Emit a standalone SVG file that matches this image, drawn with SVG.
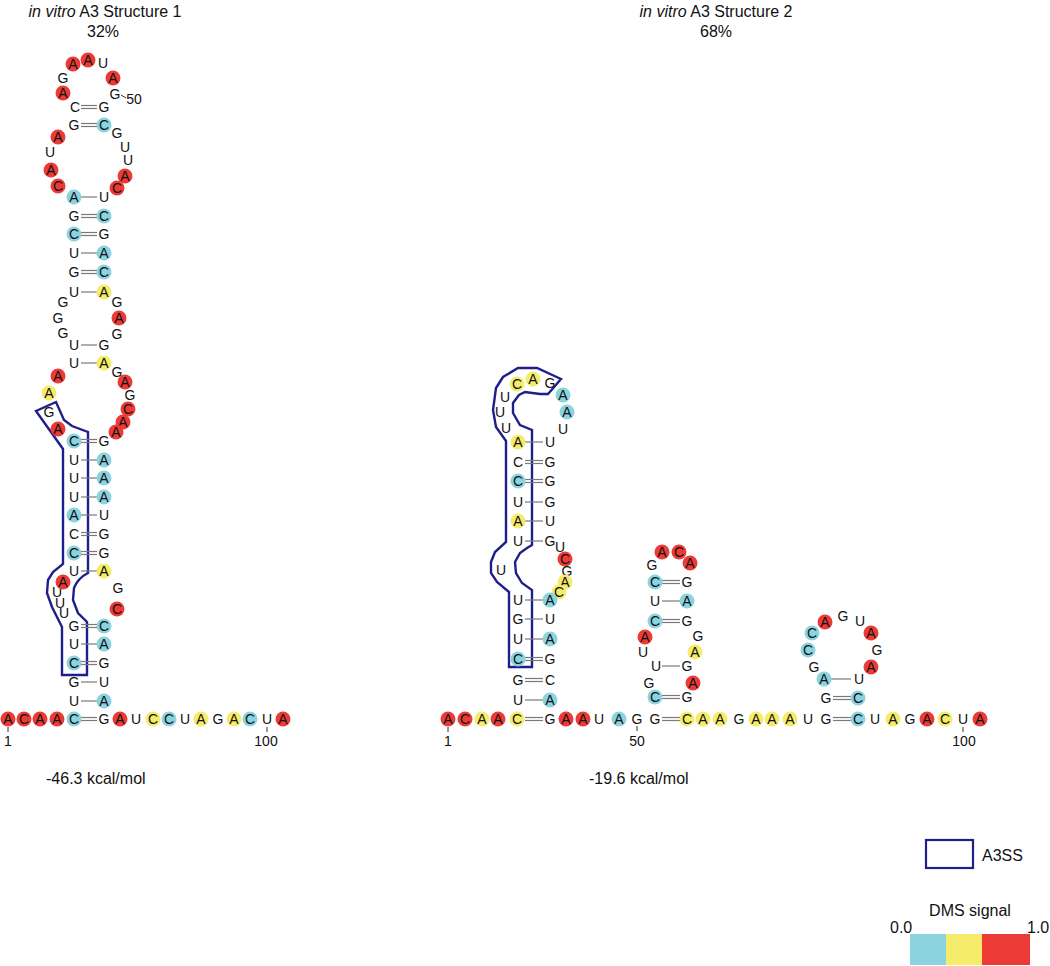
<svg xmlns="http://www.w3.org/2000/svg" width="1050" height="966" viewBox="0 0 1050 966">
<style>
text{font-family:"Liberation Sans",Arial,sans-serif;font-size:14px;text-anchor:middle;fill:#111}
.t{font-size:16px}
.st{font-size:16px;text-anchor:start}
.cc{fill:#8bd3df}.cy{fill:#f6ec6b}.cr{fill:#ec3b36}
.bp line{stroke:#7a7a7a;stroke-width:1.2}
.tk{stroke:#333;stroke-width:1}
.ol{fill:none;stroke:#1f1f8c;stroke-width:2.4;stroke-linejoin:miter}
</style>
<rect width="1050" height="966" fill="#fff"/>

<!-- titles -->
<g id="title1"><text class="t" x="105" y="17"><tspan font-style="italic">in vitro</tspan> A3 Structure 1</text><text class="t" x="103" y="37">32%</text></g>
<g id="title2"><text class="t" x="716" y="17"><tspan font-style="italic">in vitro</tspan> A3 Structure 2</text><text class="t" x="716" y="37">68%</text></g>
<g id="energy1"><text class="st" x="46" y="784">-46.3 kcal/mol</text></g>
<g id="energy2"><text class="st" x="589" y="784">-19.6 kcal/mol</text></g>

<!-- outlines (A3SS) -->
<g id="a3ss1"><path class="ol" d="M36,411 L56,402 L64,420 L72,426 L88,432 L88,573 Q78,578 74,588 L73,600 L78,613 L87,622 L87,675 L62,675 L62,627 L52,607 L47,593 L48,580 L53,572 L63,564 L63,449 Z"/></g>
<g id="a3ss2"><path class="ol" d="M561,379 L537,368 L518,368 L503,377 L496,388 L493,410 L496,427 L506,441 L506,542 L495,552 L491,562 L491,573 L497,582 L509,592 L509,667 L532,667 L532,590 L522,583 L516,573 L515,562 L520,553 L527,548 L532,545 L532,430 L520,425 L513,413 L513,403 L519,395 L525,392 L540,394 L548,394 Z"/></g>

<!-- connectors: base pairs and ticks -->
<g id="connectors">
<g class="bp">
<!-- structure 1 -->
<line x1="81" y1="717.5" x2="97" y2="717.5"/><line x1="81" y1="720.5" x2="97" y2="720.5"/>
<line x1="81" y1="701" x2="97" y2="701"/>
<line x1="81" y1="682" x2="97" y2="682"/>
<line x1="81" y1="661.5" x2="97" y2="661.5"/><line x1="81" y1="664.5" x2="97" y2="664.5"/>
<line x1="81" y1="644" x2="97" y2="644"/>
<line x1="81" y1="624.5" x2="97" y2="624.5"/><line x1="81" y1="627.5" x2="97" y2="627.5"/>
<line x1="81" y1="571" x2="97" y2="571"/>
<line x1="81" y1="551.5" x2="97" y2="551.5"/><line x1="81" y1="554.5" x2="97" y2="554.5"/>
<line x1="81" y1="532.5" x2="97" y2="532.5"/><line x1="81" y1="535.5" x2="97" y2="535.5"/>
<line x1="81" y1="515" x2="97" y2="515"/>
<line x1="81" y1="497" x2="97" y2="497"/>
<line x1="81" y1="478" x2="97" y2="478"/>
<line x1="81" y1="460" x2="97" y2="460"/>
<line x1="81" y1="439.5" x2="97" y2="439.5"/><line x1="81" y1="442.5" x2="97" y2="442.5"/>
<line x1="81" y1="363" x2="97" y2="363"/>
<line x1="81" y1="345" x2="97" y2="345"/>
<line x1="81" y1="292" x2="97" y2="292"/>
<line x1="81" y1="270.5" x2="97" y2="270.5"/><line x1="81" y1="273.5" x2="97" y2="273.5"/>
<line x1="81" y1="253" x2="97" y2="253"/>
<line x1="81" y1="232.5" x2="97" y2="232.5"/><line x1="81" y1="235.5" x2="97" y2="235.5"/>
<line x1="81" y1="214.5" x2="97" y2="214.5"/><line x1="81" y1="217.5" x2="97" y2="217.5"/>
<line x1="81" y1="197" x2="97" y2="197"/>
<line x1="81" y1="123.5" x2="97" y2="123.5"/><line x1="81" y1="126.5" x2="97" y2="126.5"/>
<line x1="81" y1="105.5" x2="97" y2="105.5"/><line x1="81" y1="108.5" x2="97" y2="108.5"/>
<!-- structure 2 stem 1 -->
<line x1="525" y1="717.5" x2="543" y2="717.5"/><line x1="525" y1="720.5" x2="543" y2="720.5"/>
<line x1="525" y1="700" x2="543" y2="700"/>
<line x1="525" y1="678.5" x2="543" y2="678.5"/><line x1="525" y1="681.5" x2="543" y2="681.5"/>
<line x1="525" y1="657.5" x2="543" y2="657.5"/><line x1="525" y1="660.5" x2="543" y2="660.5"/>
<line x1="525" y1="639" x2="543" y2="639"/>
<line x1="525" y1="619" x2="543" y2="619"/>
<line x1="525" y1="600" x2="543" y2="600"/>
<line x1="525" y1="541" x2="543" y2="541"/>
<line x1="525" y1="521" x2="543" y2="521"/>
<line x1="525" y1="502" x2="543" y2="502"/>
<line x1="525" y1="479.5" x2="543" y2="479.5"/><line x1="525" y1="482.5" x2="543" y2="482.5"/>
<line x1="525" y1="460.5" x2="543" y2="460.5"/><line x1="525" y1="463.5" x2="543" y2="463.5"/>
<line x1="525" y1="442" x2="543" y2="442"/>
<!-- hairpin 2 -->
<line x1="662" y1="717.5" x2="680" y2="717.5"/><line x1="662" y1="720.5" x2="680" y2="720.5"/>
<line x1="662" y1="695.5" x2="680" y2="695.5"/><line x1="662" y1="698.5" x2="680" y2="698.5"/>
<line x1="662" y1="666" x2="680" y2="666"/>
<line x1="662" y1="619.5" x2="680" y2="619.5"/><line x1="662" y1="622.5" x2="680" y2="622.5"/>
<line x1="662" y1="601" x2="680" y2="601"/>
<line x1="662" y1="580.5" x2="680" y2="580.5"/><line x1="662" y1="583.5" x2="680" y2="583.5"/>
<!-- hairpin 3 -->
<line x1="833" y1="717.5" x2="851" y2="717.5"/><line x1="833" y1="720.5" x2="851" y2="720.5"/>
<line x1="833" y1="696.5" x2="851" y2="696.5"/><line x1="833" y1="699.5" x2="851" y2="699.5"/>
<line x1="831" y1="679" x2="851" y2="679"/>
</g>
<line class="tk" x1="8" y1="727" x2="8" y2="732"/>
<line class="tk" x1="267" y1="727" x2="267" y2="732"/>
<line class="tk" x1="121" y1="95" x2="126" y2="98"/>
<line class="tk" x1="448" y1="727" x2="448" y2="732"/>
<line class="tk" x1="637" y1="726" x2="637" y2="731"/>
<line class="tk" x1="963" y1="727" x2="963" y2="732"/>
</g>

<!-- position labels -->
<g id="labels">
<text x="8" y="746">1</text>
<text x="266" y="746">100</text>
<text x="134" y="104">50</text>
<text x="448" y="746">1</text>
<text x="637" y="746">50</text>
<text x="964" y="746">100</text>
</g>

<!-- structure 1 nucleotides -->
<g id="structure1">
<g id="s1n1"><circle class="cr" cx="8" cy="719" r="7.5"/><text x="8" y="724">A</text></g>
<g id="s1n2"><circle class="cr" cx="24" cy="719" r="7.5"/><text x="24" y="724">C</text></g>
<g id="s1n3"><circle class="cr" cx="40" cy="719" r="7.5"/><text x="40" y="724">A</text></g>
<g id="s1n4"><circle class="cr" cx="57" cy="719" r="7.5"/><text x="57" y="724">A</text></g>
<g id="s1n5"><circle class="cc" cx="74" cy="719" r="7.5"/><text x="74" y="724">C</text></g>
<g id="s1n6"><text x="74" y="706">U</text></g>
<g id="s1n7"><text x="74" y="687">G</text></g>
<g id="s1n8"><circle class="cc" cx="74" cy="663" r="7.5"/><text x="74" y="668">C</text></g>
<g id="s1n9"><text x="74" y="649">U</text></g>
<g id="s1n10"><text x="74" y="631">G</text></g>
<g id="s1n11"><text x="64" y="618">U</text></g>
<g id="s1n12"><text x="60" y="608">U</text></g>
<g id="s1n13"><text x="57" y="597">U</text></g>
<g id="s1n14"><circle class="cr" cx="63" cy="582" r="7.5"/><text x="63" y="587">A</text></g>
<g id="s1n15"><text x="74" y="576">U</text></g>
<g id="s1n16"><circle class="cc" cx="74" cy="553" r="7.5"/><text x="74" y="558">C</text></g>
<g id="s1n17"><text x="74" y="539">C</text></g>
<g id="s1n18"><circle class="cc" cx="74" cy="515" r="7.5"/><text x="74" y="520">A</text></g>
<g id="s1n19"><text x="74" y="502">U</text></g>
<g id="s1n20"><text x="74" y="483">U</text></g>
<g id="s1n21"><text x="74" y="465">U</text></g>
<g id="s1n22"><circle class="cc" cx="74" cy="441" r="7.5"/><text x="74" y="446">C</text></g>
<g id="s1n23"><circle class="cr" cx="58" cy="429" r="7.5"/><text x="58" y="434">A</text></g>
<g id="s1n24"><text x="49" y="417">G</text></g>
<g id="s1n25"><circle class="cy" cx="49" cy="393" r="7.5"/><text x="49" y="398">A</text></g>
<g id="s1n26"><circle class="cr" cx="58" cy="376" r="7.5"/><text x="58" y="381">A</text></g>
<g id="s1n27"><text x="74" y="368">U</text></g>
<g id="s1n28"><text x="74" y="350">U</text></g>
<g id="s1n29"><text x="63" y="338">G</text></g>
<g id="s1n30"><text x="58" y="323">G</text></g>
<g id="s1n31"><text x="63" y="307">G</text></g>
<g id="s1n32"><text x="74" y="297">U</text></g>
<g id="s1n33"><text x="74" y="277">G</text></g>
<g id="s1n34"><text x="74" y="258">U</text></g>
<g id="s1n35"><circle class="cc" cx="74" cy="234" r="7.5"/><text x="74" y="239">C</text></g>
<g id="s1n36"><text x="74" y="221">G</text></g>
<g id="s1n37"><circle class="cc" cx="74" cy="197" r="7.5"/><text x="74" y="202">A</text></g>
<g id="s1n38"><circle class="cr" cx="58" cy="186" r="7.5"/><text x="58" y="191">C</text></g>
<g id="s1n39"><circle class="cr" cx="51" cy="170" r="7.5"/><text x="51" y="175">A</text></g>
<g id="s1n40"><text x="50" y="157">U</text></g>
<g id="s1n41"><circle class="cr" cx="58" cy="137" r="7.5"/><text x="58" y="142">A</text></g>
<g id="s1n42"><text x="74" y="130">G</text></g>
<g id="s1n43"><text x="75" y="112">C</text></g>
<g id="s1n44"><circle class="cr" cx="63" cy="93" r="7.5"/><text x="63" y="98">A</text></g>
<g id="s1n45"><text x="63" y="83">G</text></g>
<g id="s1n46"><circle class="cr" cx="73" cy="64" r="7.5"/><text x="73" y="69">A</text></g>
<g id="s1n47"><circle class="cr" cx="88" cy="60" r="7.5"/><text x="88" y="65">A</text></g>
<g id="s1n48"><text x="103" y="68">U</text></g>
<g id="s1n49"><circle class="cr" cx="113" cy="78" r="7.5"/><text x="113" y="83">A</text></g>
<g id="s1n50"><text x="115" y="99">G</text></g>
<g id="s1n51"><text x="104" y="112">G</text></g>
<g id="s1n52"><circle class="cc" cx="104" cy="125" r="7.5"/><text x="104" y="130">C</text></g>
<g id="s1n53"><text x="117" y="138">G</text></g>
<g id="s1n54"><text x="125" y="152">U</text></g>
<g id="s1n55"><text x="128" y="165">U</text></g>
<g id="s1n56"><circle class="cr" cx="125" cy="176" r="7.5"/><text x="125" y="181">A</text></g>
<g id="s1n57"><circle class="cr" cx="117" cy="188" r="7.5"/><text x="117" y="193">C</text></g>
<g id="s1n58"><text x="104" y="202">U</text></g>
<g id="s1n59"><circle class="cc" cx="104" cy="216" r="7.5"/><text x="104" y="221">C</text></g>
<g id="s1n60"><text x="104" y="239">G</text></g>
<g id="s1n61"><circle class="cc" cx="104" cy="253" r="7.5"/><text x="104" y="258">A</text></g>
<g id="s1n62"><circle class="cc" cx="104" cy="272" r="7.5"/><text x="104" y="277">C</text></g>
<g id="s1n63"><circle class="cy" cx="104" cy="292" r="7.5"/><text x="104" y="297">A</text></g>
<g id="s1n64"><text x="117" y="307">G</text></g>
<g id="s1n65"><circle class="cr" cx="119" cy="318" r="7.5"/><text x="119" y="323">A</text></g>
<g id="s1n66"><text x="117" y="339">G</text></g>
<g id="s1n67"><text x="104" y="350">G</text></g>
<g id="s1n68"><circle class="cy" cx="104" cy="363" r="7.5"/><text x="104" y="368">A</text></g>
<g id="s1n69"><text x="117" y="377">G</text></g>
<g id="s1n70"><circle class="cr" cx="125" cy="382" r="7.5"/><text x="125" y="387">A</text></g>
<g id="s1n71"><text x="130" y="400">G</text></g>
<g id="s1n72"><circle class="cr" cx="128" cy="409" r="7.5"/><text x="128" y="414">C</text></g>
<g id="s1n73"><circle class="cr" cx="123" cy="422" r="7.5"/><text x="123" y="427">A</text></g>
<g id="s1n74"><circle class="cr" cx="116" cy="432" r="7.5"/><text x="116" y="437">A</text></g>
<g id="s1n75"><text x="104" y="446">G</text></g>
<g id="s1n76"><circle class="cc" cx="104" cy="460" r="7.5"/><text x="104" y="465">A</text></g>
<g id="s1n77"><circle class="cc" cx="104" cy="478" r="7.5"/><text x="104" y="483">A</text></g>
<g id="s1n78"><circle class="cc" cx="104" cy="497" r="7.5"/><text x="104" y="502">A</text></g>
<g id="s1n79"><text x="104" y="520">U</text></g>
<g id="s1n80"><text x="104" y="539">G</text></g>
<g id="s1n81"><text x="104" y="558">G</text></g>
<g id="s1n82"><circle class="cy" cx="104" cy="571" r="7.5"/><text x="104" y="576">A</text></g>
<g id="s1n83"><text x="118" y="593">G</text></g>
<g id="s1n84"><circle class="cr" cx="117" cy="609" r="7.5"/><text x="117" y="614">C</text></g>
<g id="s1n85"><circle class="cc" cx="104" cy="626" r="7.5"/><text x="104" y="631">C</text></g>
<g id="s1n86"><circle class="cc" cx="104" cy="644" r="7.5"/><text x="104" y="649">A</text></g>
<g id="s1n87"><text x="104" y="668">G</text></g>
<g id="s1n88"><text x="104" y="687">U</text></g>
<g id="s1n89"><circle class="cc" cx="104" cy="701" r="7.5"/><text x="104" y="706">A</text></g>
<g id="s1n90"><text x="104" y="724">G</text></g>
<g id="s1n91"><circle class="cr" cx="120" cy="719" r="7.5"/><text x="120" y="724">A</text></g>
<g id="s1n92"><text x="136" y="724">U</text></g>
<g id="s1n93"><circle class="cy" cx="153" cy="719" r="7.5"/><text x="153" y="724">C</text></g>
<g id="s1n94"><circle class="cc" cx="169" cy="719" r="7.5"/><text x="169" y="724">C</text></g>
<g id="s1n95"><text x="185" y="724">U</text></g>
<g id="s1n96"><circle class="cy" cx="201" cy="719" r="7.5"/><text x="201" y="724">A</text></g>
<g id="s1n97"><text x="218" y="724">G</text></g>
<g id="s1n98"><circle class="cy" cx="234" cy="719" r="7.5"/><text x="234" y="724">A</text></g>
<g id="s1n99"><circle class="cc" cx="250" cy="719" r="7.5"/><text x="250" y="724">C</text></g>
<g id="s1n100"><text x="267" y="724">U</text></g>
<g id="s1n101"><circle class="cr" cx="283" cy="719" r="7.5"/><text x="283" y="724">A</text></g>
</g>

<!-- structure 2 nucleotides -->
<g id="structure2">
<g id="s2n1"><circle class="cr" cx="448" cy="719" r="7.5"/><text x="448" y="724">A</text></g>
<g id="s2n2"><circle class="cr" cx="465" cy="719" r="7.5"/><text x="465" y="724">C</text></g>
<g id="s2n3"><circle class="cy" cx="482" cy="719" r="7.5"/><text x="482" y="724">A</text></g>
<g id="s2n4"><circle class="cr" cx="498" cy="719" r="7.5"/><text x="498" y="724">A</text></g>
<g id="s2n5"><circle class="cy" cx="517" cy="719" r="7.5"/><text x="517" y="724">C</text></g>
<g id="s2n6"><text x="518" y="705">U</text></g>
<g id="s2n7"><text x="518" y="685">G</text></g>
<g id="s2n8"><circle class="cc" cx="518" cy="659" r="7.5"/><text x="518" y="664">C</text></g>
<g id="s2n9"><text x="518" y="644">U</text></g>
<g id="s2n10"><text x="518" y="624">G</text></g>
<g id="s2n11"><text x="518" y="605">U</text></g>
<g id="s2n12"><text x="501" y="575">U</text></g>
<g id="s2n13"><text x="518" y="546">U</text></g>
<g id="s2n14"><circle class="cy" cx="518" cy="521" r="7.5"/><text x="518" y="526">A</text></g>
<g id="s2n15"><text x="518" y="507">U</text></g>
<g id="s2n16"><circle class="cc" cx="518" cy="481" r="7.5"/><text x="518" y="486">C</text></g>
<g id="s2n17"><text x="518" y="467">C</text></g>
<g id="s2n18"><circle class="cy" cx="518" cy="442" r="7.5"/><text x="518" y="447">A</text></g>
<g id="s2n19"><text x="506" y="433">U</text></g>
<g id="s2n20"><text x="500" y="417">U</text></g>
<g id="s2n21"><text x="505" y="402">U</text></g>
<g id="s2n22"><circle class="cy" cx="517" cy="384" r="7.5"/><text x="517" y="389">C</text></g>
<g id="s2n23"><circle class="cy" cx="533" cy="379" r="7.5"/><text x="533" y="384">A</text></g>
<g id="s2n24"><text x="550" y="388">G</text></g>
<g id="s2n25"><circle class="cc" cx="563" cy="395" r="7.5"/><text x="563" y="400">A</text></g>
<g id="s2n26"><circle class="cc" cx="567" cy="412" r="7.5"/><text x="567" y="417">A</text></g>
<g id="s2n27"><text x="563" y="434">U</text></g>
<g id="s2n28"><text x="550" y="447">U</text></g>
<g id="s2n29"><text x="550" y="467">G</text></g>
<g id="s2n30"><text x="550" y="486">G</text></g>
<g id="s2n31"><text x="550" y="507">G</text></g>
<g id="s2n32"><text x="550" y="526">U</text></g>
<g id="s2n33"><text x="550" y="546">G</text></g>
<g id="s2n34"><text x="560" y="552">U</text></g>
<g id="s2n35"><circle class="cr" cx="565" cy="559" r="7.5"/><text x="565" y="564">C</text></g>
<g id="s2n36"><text x="567" y="576">G</text></g>
<g id="s2n37"><circle class="cy" cx="565" cy="582" r="7.5"/><text x="565" y="587">A</text></g>
<g id="s2n38"><circle class="cy" cx="559" cy="592" r="7.5"/><text x="559" y="597">C</text></g>
<g id="s2n39"><circle class="cc" cx="550" cy="600" r="7.5"/><text x="550" y="605">A</text></g>
<g id="s2n40"><text x="550" y="624">U</text></g>
<g id="s2n41"><circle class="cc" cx="550" cy="639" r="7.5"/><text x="550" y="644">A</text></g>
<g id="s2n42"><text x="550" y="664">G</text></g>
<g id="s2n43"><text x="550" y="685">C</text></g>
<g id="s2n44"><circle class="cc" cx="550" cy="700" r="7.5"/><text x="550" y="705">A</text></g>
<g id="s2n45"><text x="550" y="724">G</text></g>
<g id="s2n46"><circle class="cr" cx="566" cy="719" r="7.5"/><text x="566" y="724">A</text></g>
<g id="s2n47"><circle class="cr" cx="583" cy="719" r="7.5"/><text x="583" y="724">A</text></g>
<g id="s2n48"><text x="599" y="724">U</text></g>
<g id="s2n49"><circle class="cc" cx="619" cy="719" r="7.5"/><text x="619" y="724">A</text></g>
<g id="s2n50"><text x="637" y="724">G</text></g>
<g id="s2n51"><text x="655" y="724">G</text></g>
<g id="s2n52"><circle class="cc" cx="655" cy="697" r="7.5"/><text x="655" y="702">C</text></g>
<g id="s2n53"><text x="649" y="688">G</text></g>
<g id="s2n54"><text x="656" y="671">U</text></g>
<g id="s2n55"><text x="643" y="657">U</text></g>
<g id="s2n56"><circle class="cr" cx="645" cy="637" r="7.5"/><text x="645" y="642">A</text></g>
<g id="s2n57"><circle class="cc" cx="655" cy="621" r="7.5"/><text x="655" y="626">C</text></g>
<g id="s2n58"><text x="655" y="606">U</text></g>
<g id="s2n59"><circle class="cc" cx="655" cy="582" r="7.5"/><text x="655" y="587">C</text></g>
<g id="s2n60"><text x="652" y="570">G</text></g>
<g id="s2n61"><circle class="cr" cx="662" cy="552" r="7.5"/><text x="662" y="557">A</text></g>
<g id="s2n62"><circle class="cr" cx="679" cy="552" r="7.5"/><text x="679" y="557">C</text></g>
<g id="s2n63"><circle class="cr" cx="690" cy="563" r="7.5"/><text x="690" y="568">A</text></g>
<g id="s2n64"><text x="687" y="587">G</text></g>
<g id="s2n65"><circle class="cc" cx="687" cy="601" r="7.5"/><text x="687" y="606">A</text></g>
<g id="s2n66"><text x="687" y="626">G</text></g>
<g id="s2n67"><text x="698" y="641">G</text></g>
<g id="s2n68"><circle class="cy" cx="695" cy="652" r="7.5"/><text x="695" y="657">A</text></g>
<g id="s2n69"><text x="687" y="671">G</text></g>
<g id="s2n70"><circle class="cr" cx="693" cy="683" r="7.5"/><text x="693" y="688">A</text></g>
<g id="s2n71"><text x="687" y="702">G</text></g>
<g id="s2n72"><circle class="cy" cx="687" cy="719" r="7.5"/><text x="687" y="724">C</text></g>
<g id="s2n73"><circle class="cy" cx="703" cy="719" r="7.5"/><text x="703" y="724">A</text></g>
<g id="s2n74"><circle class="cy" cx="720" cy="719" r="7.5"/><text x="720" y="724">A</text></g>
<g id="s2n75"><text x="739" y="724">G</text></g>
<g id="s2n76"><circle class="cy" cx="756" cy="719" r="7.5"/><text x="756" y="724">A</text></g>
<g id="s2n77"><circle class="cy" cx="772" cy="719" r="7.5"/><text x="772" y="724">A</text></g>
<g id="s2n78"><circle class="cy" cx="790" cy="719" r="7.5"/><text x="790" y="724">A</text></g>
<g id="s2n79"><text x="808" y="724">U</text></g>
<g id="s2n80"><text x="826" y="724">G</text></g>
<g id="s2n81"><text x="826" y="703">G</text></g>
<g id="s2n82"><circle class="cc" cx="824" cy="679" r="7.5"/><text x="824" y="684">A</text></g>
<g id="s2n83"><text x="814" y="672">G</text></g>
<g id="s2n84"><circle class="cc" cx="808" cy="650" r="7.5"/><text x="808" y="655">C</text></g>
<g id="s2n85"><circle class="cc" cx="812" cy="633" r="7.5"/><text x="812" y="638">C</text></g>
<g id="s2n86"><circle class="cr" cx="825" cy="622" r="7.5"/><text x="825" y="627">A</text></g>
<g id="s2n87"><text x="843" y="621">G</text></g>
<g id="s2n88"><text x="860" y="626">U</text></g>
<g id="s2n89"><circle class="cr" cx="871" cy="633" r="7.5"/><text x="871" y="638">A</text></g>
<g id="s2n90"><text x="877" y="655">G</text></g>
<g id="s2n91"><circle class="cr" cx="871" cy="667" r="7.5"/><text x="871" y="672">A</text></g>
<g id="s2n92"><text x="859" y="684">U</text></g>
<g id="s2n93"><circle class="cc" cx="858" cy="698" r="7.5"/><text x="858" y="703">C</text></g>
<g id="s2n94"><circle class="cc" cx="858" cy="719" r="7.5"/><text x="858" y="724">C</text></g>
<g id="s2n95"><text x="875" y="724">U</text></g>
<g id="s2n96"><circle class="cy" cx="893" cy="719" r="7.5"/><text x="893" y="724">A</text></g>
<g id="s2n97"><text x="910" y="724">G</text></g>
<g id="s2n98"><circle class="cr" cx="927" cy="719" r="7.5"/><text x="927" y="724">A</text></g>
<g id="s2n99"><circle class="cy" cx="945" cy="719" r="7.5"/><text x="945" y="724">C</text></g>
<g id="s2n100"><text x="963" y="724">U</text></g>
<g id="s2n101"><circle class="cr" cx="980" cy="719" r="7.5"/><text x="980" y="724">A</text></g>
</g>

<!-- legend -->
<g id="legend-a3ss">
<rect x="926" y="840" width="47" height="28" fill="none" stroke="#1f1f8c" stroke-width="2.2"/>
<text class="st" x="982" y="861">A3SS</text>
</g>
<g id="legend-dms">
<text class="t" x="970" y="916">DMS signal</text>
<text class="st" x="890" y="933">0.0</text>
<text class="st" x="1027" y="933">1.0</text>
<rect x="910" y="934" width="36" height="31" class="cc"/>
<rect x="946" y="934" width="36" height="31" class="cy"/>
<rect x="982" y="934" width="48" height="31" class="cr"/>
</g>
</svg>
